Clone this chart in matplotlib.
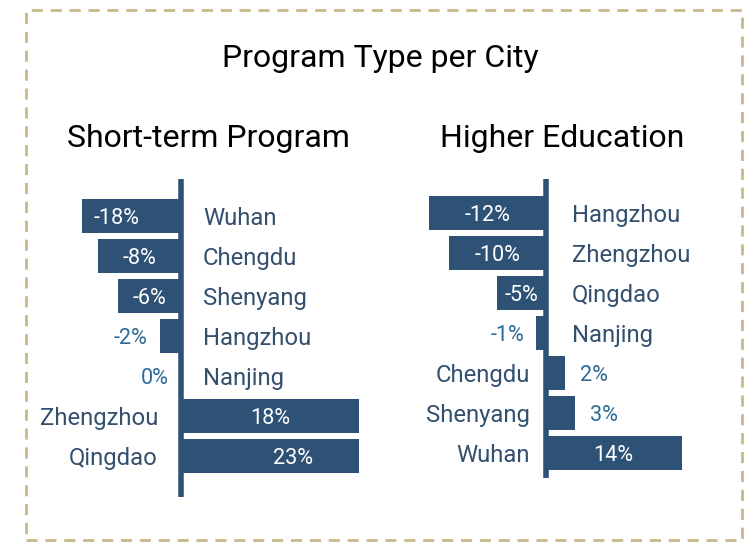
import matplotlib
matplotlib.use("Agg")
import matplotlib.pyplot as plt
from matplotlib.patches import Rectangle
from matplotlib.transforms import offset_copy

# --- data ---
short_cities = ["Wuhan", "Chengdu", "Shenyang", "Hangzhou", "Nanjing", "Zhengzhou", "Qingdao"]
short_pct = [-18, -8, -6, -2, 0, 18, 23]
higher_cities = ["Hangzhou", "Zhengzhou", "Qingdao", "Nanjing", "Chengdu", "Shenyang", "Wuhan"]
higher_pct = [-12, -10, -5, -1, 2, 3, 14]

BAR = "#2d5276"
CAT = "#33506e"
OUT = "#2f6a96"
BORDER = "#c7b98a"
DY = -2.5  # nudge text down a little (pixels)

plt.rcParams["font.family"] = ["Roboto", "DejaVu Sans"]

W, H = 754, 542
fig = plt.figure(figsize=(W / 100, H / 100), dpi=100)


def px_axes(x0, x1, ytop, ybot):
    return fig.add_axes([x0 / W, 1 - ybot / H, (x1 - x0) / W, (ybot - ytop) / H])


def draw_panel(ax, cities, vals, xlim, ylim, cat_gap_r, cat_gap_l, nudge):
    ax.set_xlim(*xlim)
    ax.set_ylim(*ylim)
    ax.axis("off")
    y = list(range(len(vals)))
    ax.barh(y, vals, height=0.85, color=BAR, edgecolor="none", zorder=1)
    ax.axvline(0, color=BAR, lw=4.0, zorder=2)
    for i, (c, v) in enumerate(zip(cities, vals)):
        # city name on the opposite side of the bar
        if v <= 0:
            tr = offset_copy(ax.transData, fig=fig, x=cat_gap_r, y=DY, units="dots")
            ax.text(0, i, c, transform=tr, ha="left", va="center", fontsize=17.2,
                    color=CAT, clip_on=False)
        else:
            tr = offset_copy(ax.transData, fig=fig, x=-cat_gap_l, y=DY, units="dots")
            ax.text(0, i, c, transform=tr, ha="right", va="center", fontsize=17.2,
                    color=CAT, clip_on=False)
        lab = f"{v}%"
        if abs(v) >= 4:
            vis = max(v, xlim[0]) if v < 0 else min(v, xlim[1])
            tr = offset_copy(ax.transData, fig=fig, x=nudge.get(i, 0), y=DY, units="dots")
            ax.text(vis / 2, i, lab, transform=tr, ha="center", va="center",
                    fontsize=15.6, color="white", clip_on=False, zorder=3)
        elif v <= 0:
            tr = offset_copy(ax.transData, fig=fig, x=-12, y=DY, units="dots")
            ax.text(v, i, lab, transform=tr, ha="right", va="center",
                    fontsize=15.6, color=OUT, clip_on=False)
        else:
            tr = offset_copy(ax.transData, fig=fig, x=15, y=DY, units="dots")
            ax.text(v, i, lab, transform=tr, ha="left", va="center",
                    fontsize=15.6, color=OUT, clip_on=False)


ax1 = px_axes(82.2, 359, 179, 497)
draw_panel(ax1, short_cities, short_pct, (-9.5, 17.25), (7.025, -0.925), 22.5, 22.5,
           {0: -15, 6: 23})

ax2 = px_axes(424.55, 686.45, 179, 478)
draw_panel(ax2, higher_cities, higher_pct, (-12.5, 14.5), (6.625, -0.85), 26, 16, {})

fig.text(380 / W, 1 - 67 / H, "Program Type per City", ha="center", va="baseline",
         fontsize=23, color="black")
fig.text(208 / W, 1 - 147 / H, "Short-term Program", ha="center", va="baseline",
         fontsize=23, color="black")
fig.text(562.5 / W, 1 - 147 / H, "Higher Education", ha="center", va="baseline",
         fontsize=23, color="black")

border = Rectangle((26 / W, 1 - 540 / H), (742 - 26) / W, (540 - 10) / H,
                   transform=fig.transFigure, fill=False, edgecolor=BORDER,
                   lw=2, linestyle=(0, (4, 2.8)))
fig.add_artist(border)

fig.savefig("out.png", dpi=100)
